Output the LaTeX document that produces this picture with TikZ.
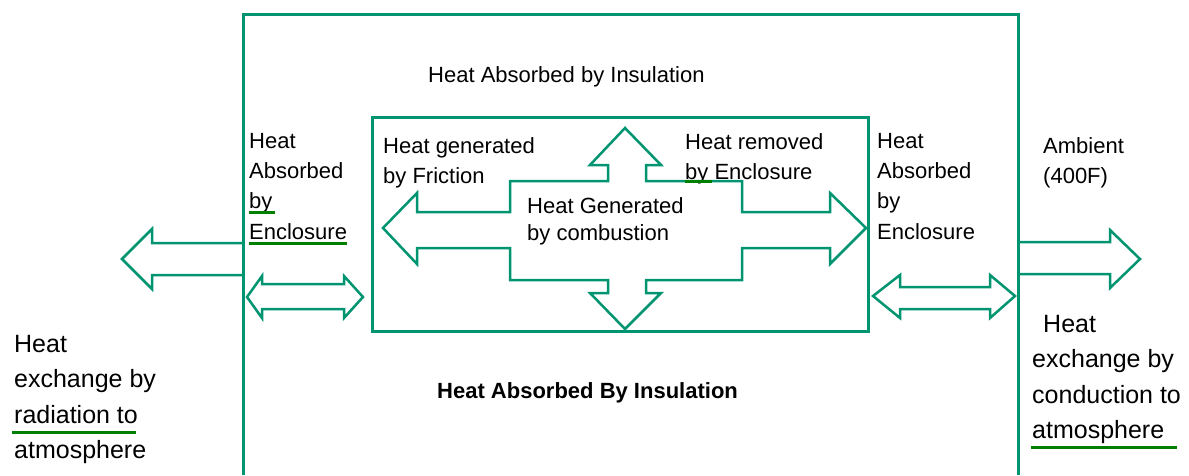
\documentclass[tikz,border=0pt]{standalone}
\usepackage{fontspec}
\setmainfont{Liberation Sans}
\definecolor{tealline}{RGB}{0,148,112}
\definecolor{ulgreen}{RGB}{0,128,0}
\begin{document}
\begin{tikzpicture}[x=1pt,y=-1pt,
  frame/.style={draw=tealline,line width=3pt},
  arrowshape/.style={draw=tealline,line width=2.5pt,line join=miter},
  lbl/.style={anchor=north west,inner sep=0pt,align=left,font=\fontsize{22}{30.3}\selectfont},
  lblc/.style={lbl,font=\fontsize{22}{27.5}\selectfont},
  lblb/.style={lbl,font=\fontsize{25}{35.5}\selectfont},
  lblbold/.style={lbl,font=\fontsize{22}{26}\selectfont\bfseries},
  ul/.style={draw=ulgreen,line width=3pt}]
\useasboundingbox (0,0) rectangle (1189,475);

% outer enclosure
\draw[frame] (243,475) -- (243,14) -- (1018,14) -- (1018,475);
% inner box
\draw[frame] (372,117) rectangle (868,331);

% four-way arrow inside inner box
\draw[arrowshape] (383,228) -- (417,193) -- (417,212) -- (510,212) -- (510,181)
  -- (608,181) -- (608,165) -- (590,165) -- (625,128) -- (661,165) -- (646,165)
  -- (646,181) -- (742,181) -- (742,212) -- (830,212) -- (830,193) -- (866,228)
  -- (830,264) -- (830,248) -- (742,248) -- (742,280) -- (646,280) -- (646,293)
  -- (661,293) -- (625,329) -- (590,293) -- (608,293) -- (608,280) -- (510,280)
  -- (510,248) -- (417,248) -- (417,264) -- cycle;

% left outer arrow
\draw[arrowshape] (243,243) -- (152,243) -- (152,229) -- (122,259) -- (152,289)
  -- (152,275) -- (243,275);
% right outer arrow
\draw[arrowshape] (1018,242) -- (1110,242) -- (1110,230) -- (1140,259) -- (1110,288)
  -- (1110,274) -- (1018,274);

% left double arrow
\draw[arrowshape] (247,297) -- (262,276) -- (262,284) -- (344,284) -- (344,276)
  -- (363,297) -- (344,318) -- (344,309) -- (262,309) -- (262,318) -- cycle;
% right double arrow
\draw[arrowshape] (873,296) -- (900,275) -- (900,287) -- (990,287) -- (990,275)
  -- (1015,296) -- (990,318) -- (990,309) -- (900,309) -- (900,318) -- cycle;

% texts
\node[lbl] (tTop) at (428,66) {Heat Absorbed by Insulation};
\node[lbl] (tLeftIn) at (249,133) {Heat\\Absorbed\\by\\Enclosure};
\node[lbl] (tInTL) at (383,137) {Heat generated\\by Friction};
\node[lbl] (tInTR) at (685,133) {Heat removed\\by Enclosure};
\node[lblc] (tCenter) at (527,197) {Heat Generated\\by combustion};
\node[lbl] (tRightIn) at (877,133) {Heat\\Absorbed\\by\\Enclosure};
\node[lbl] (tAmb) at (1043,137) {Ambient\\(400F)};
\node[lblbold] (tBottom) at (437,382) {Heat Absorbed By Insulation};
\node[lblb] (tBL) at (14,335) {Heat\\exchange by\\radiation to\\atmosphere};
\node[lblb] (tBR) at (1032,315) {\hspace*{11pt}Heat\\exchange by\\conduction to\\atmosphere};

% green underlines
\draw[ul] (249,212) -- (275,212);
\draw[ul] (249,243) -- (347,243);
\draw[ul] (685,181) -- (712,181);
\draw[ul] (12,432) -- (136,432);
\draw[ul] (1031,447) -- (1177,447);
\end{tikzpicture}
\end{document}
